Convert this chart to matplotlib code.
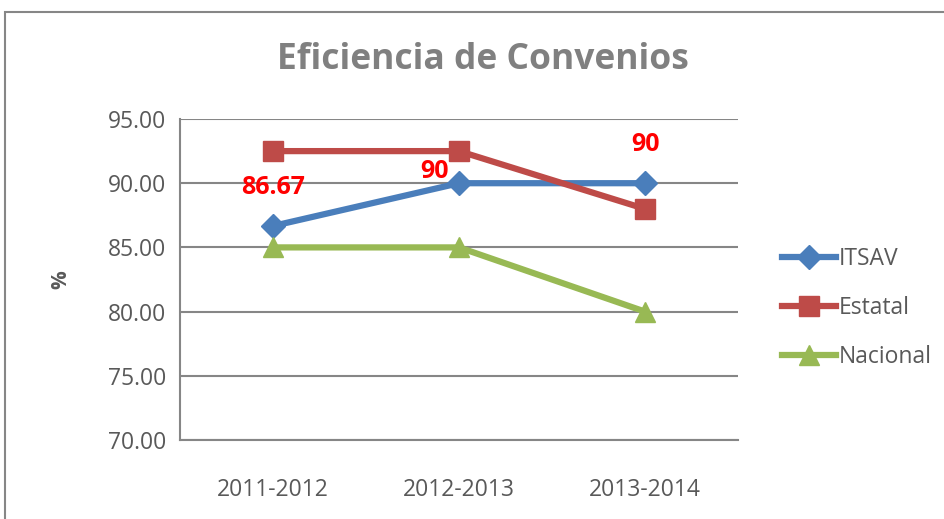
import matplotlib.pyplot as plt
from matplotlib.patches import Rectangle

categories = ['2011-2012', '2012-2013', '2013-2014']
itsav = [86.67, 90, 90]
estatal = [92.5, 92.5, 88]
nacional = [85, 85, 80]
labels = ['86.67', '90', '90']

gray = '#808080'
plt.rcParams['font.family'] = ['Open Sans', 'DejaVu Sans']

fig = plt.figure(figsize=(9.44, 5.19), dpi=100)
ax = fig.add_axes([0.1907, 0.1522, 0.5911, 0.6185])

# outer chart frame (cropped on right and bottom)
fig.patches.append(Rectangle((5/944, -0.1), 1.2, 1 - 12/519 + 0.1, transform=fig.transFigure,
                             fill=False, edgecolor='#868686', lw=1.5))

x = range(len(categories))
ax.plot(x, itsav, color='#4A7EBB', lw=4.5, marker='D', ms=12, label='ITSAV', zorder=3)
ax.plot(x, estatal, color='#BE4B48', lw=4.5, marker='s', ms=14, label='Estatal', zorder=3)
ax.plot(x, nacional, color='#98B954', lw=4.5, marker='^', ms=15, label='Nacional', zorder=3)

# data labels (placed like the original workbook labels)
lab_x = [0, 0.87, 2]
lab_y = [89.63, 90.95, 92.98]
for lx, ly, t in zip(lab_x, lab_y, labels):
    ax.text(lx, ly, t, color='red', fontweight='bold', fontsize=18, ha='center', va='center')

ax.set_xlim(-0.5, 2.5)
ax.set_ylim(70, 95)
ax.set_yticks([70, 75, 80, 85, 90, 95])
ax.set_yticklabels(['%.2f' % v for v in [70, 75, 80, 85, 90, 95]])
ax.set_xticks(list(x))
ax.set_xticklabels(categories)
ax.grid(axis='y', color='#868686', lw=1.5)
ax.set_axisbelow(True)
for s in ['top', 'right']:
    ax.spines[s].set_visible(False)
for s in ['left', 'bottom']:
    ax.spines[s].set_color('#868686')
    ax.spines[s].set_linewidth(1.5)
ax.tick_params(length=0, labelsize=16.5, labelcolor='#595959')
ax.tick_params(axis='y', pad=10)
ax.tick_params(axis='x', pad=27)
ax.set_ylabel('%', fontsize=15, fontweight='bold', color='#595959', labelpad=26)

fig.text(0.512, 0.884, 'Eficiencia de Convenios', ha='center', va='center',
         fontsize=25.5, fontweight='bold', color=gray)

ax.legend(loc='center left', bbox_to_anchor=(1.041, 0.411), frameon=False, fontsize=16.5,
          labelcolor='#595959', handlelength=2.36, handletextpad=0.15, labelspacing=1.1)

fig.savefig('out.png', dpi=100)
